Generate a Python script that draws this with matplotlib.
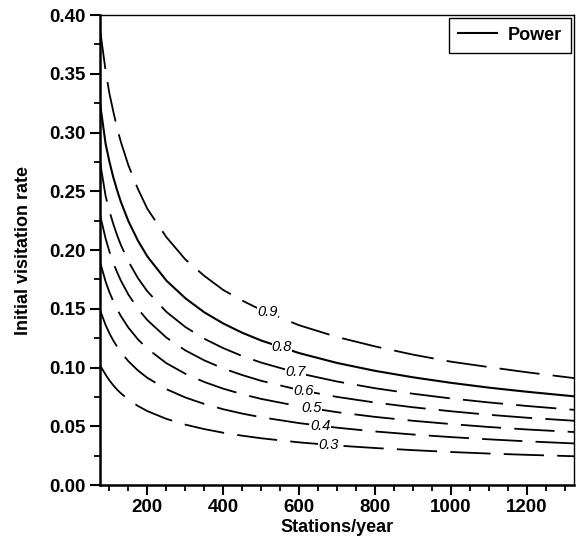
import numpy as np
import matplotlib
matplotlib.use("Agg")
import matplotlib.pyplot as plt
from matplotlib.ticker import MultipleLocator, FormatStrFormatter
from matplotlib.lines import Line2D

plt.rcParams["font.family"] = ["Liberation Sans", "DejaVu Sans"]
plt.rcParams["lines.scale_dashes"] = False

# stations/year at which the curves were read
stations = [75, 90, 100, 110, 120, 130, 150, 175, 200, 250, 300, 350, 400, 450,
            500, 600, 700, 800, 900, 1000, 1100, 1200, 1325]

# initial visitation rate for each power level
power_levels = ["0.9", "0.8", "0.7", "0.6", "0.5", "0.4", "0.3"]
rate_09 = [0.388, 0.352, 0.333, 0.318, 0.304, 0.292, 0.272, 0.252, 0.235, 0.211, 0.192, 0.178,
           0.166, 0.157, 0.149, 0.136, 0.126, 0.118, 0.111, 0.105, 0.1004, 0.096, 0.091]
rate_08 = [0.325, 0.290, 0.275, 0.262, 0.251, 0.241, 0.2245, 0.208, 0.1945, 0.174, 0.159, 0.147,
           0.1375, 0.1296, 0.123, 0.1123, 0.1039, 0.0972, 0.0917, 0.087, 0.0829, 0.0794, 0.0755]
rate_07 = [0.275, 0.2456, 0.233, 0.2222, 0.2127, 0.2043, 0.1902, 0.1761, 0.1648, 0.1474, 0.1345,
           0.1245, 0.1165, 0.1098, 0.1042, 0.0951, 0.0881, 0.0824, 0.0777, 0.0737, 0.0703,
           0.0673, 0.064]
rate_06 = [0.230, 0.2095, 0.1985, 0.1890, 0.1812, 0.1740, 0.1620, 0.1500, 0.1403, 0.1255, 0.1146,
           0.1061, 0.0992, 0.0936, 0.0887, 0.0809, 0.075, 0.0702, 0.0662, 0.0628, 0.0598,
           0.0573, 0.0547]
rate_05 = [0.190, 0.1729, 0.164, 0.1564, 0.1497, 0.1438, 0.1339, 0.124, 0.116, 0.1037, 0.0947,
           0.0877, 0.082, 0.0773, 0.0733, 0.067, 0.062, 0.058, 0.0547, 0.0519, 0.0494, 0.0473,
           0.0451]
rate_04 = [0.149, 0.136, 0.129, 0.123, 0.1178, 0.1131, 0.1053, 0.0975, 0.0912, 0.0816, 0.0745,
           0.069, 0.0645, 0.0608, 0.0577, 0.0527, 0.0488, 0.0456, 0.043, 0.0408, 0.0389, 0.0372,
           0.0354]
rate_03 = [0.102, 0.0938, 0.089, 0.0849, 0.0812, 0.0781, 0.0727, 0.0673, 0.0629, 0.0563, 0.0514,
           0.0476, 0.0445, 0.042, 0.0398, 0.0363, 0.0336, 0.0315, 0.0297, 0.0281, 0.0268, 0.0257,
           0.0245]
rates = [rate_09, rate_08, rate_07, rate_06, rate_05, rate_04, rate_03]

# where each inline label sits along its curve
label_x = [516, 555, 590, 612, 634, 656, 677]

fig = plt.figure(figsize=(5.76, 5.54), dpi=100)
ax = fig.add_axes([0.1736, 0.1245, 0.8229, 0.8484])

for lvl, ys, lx in zip(power_levels, rates, label_x):
    if lvl == "0.8":
        ax.plot(stations, ys, color="black", lw=1.5, solid_capstyle="butt")
    else:
        ax.plot(stations, ys, color="black", lw=1.3, dashes=(29, 9.5))
    ly = np.interp(lx, stations, ys)
    ax.text(lx, ly, lvl, fontsize=10.5, style="italic", ha="center", va="center",
            bbox=dict(facecolor="white", edgecolor="none", pad=0.2), zorder=5)

ax.set_xlim(75, 1325)
ax.set_ylim(0, 0.40)
ax.xaxis.set_major_locator(MultipleLocator(200))
ax.xaxis.set_minor_locator(MultipleLocator(50))
ax.yaxis.set_major_locator(MultipleLocator(0.05))
ax.yaxis.set_minor_locator(MultipleLocator(0.025))
ax.yaxis.set_major_formatter(FormatStrFormatter("%.2f"))

ax.tick_params(which="major", direction="out", length=7, width=1.5, labelsize=13.5, pad=3)
ax.tick_params(which="minor", direction="out", length=4, width=1.3)
ax.tick_params(axis="x", which="both", top=False)
ax.tick_params(axis="y", which="both", right=False)
for lab in ax.get_xticklabels() + ax.get_yticklabels():
    lab.set_fontweight("bold")

ax.spines["left"].set_linewidth(1.8)
ax.spines["bottom"].set_linewidth(1.8)
ax.spines["top"].set_linewidth(1.0)
ax.spines["right"].set_linewidth(1.0)

ax.set_xlabel("Stations/year", fontsize=13, fontweight="bold", labelpad=2)
ax.set_ylabel("Initial visitation rate", fontsize=13, fontweight="bold", labelpad=13)

handle = Line2D([], [], color="black", lw=1.5)
leg = ax.legend([handle], ["Power"], loc="upper right", fancybox=False,
                edgecolor="black", framealpha=1, borderaxespad=0.15,
                prop={"weight": "bold", "size": 13}, handlelength=2.2,
                borderpad=0.5, handletextpad=0.6)
leg.get_frame().set_linewidth(1.0)

fig.savefig("out.png", dpi=100)
